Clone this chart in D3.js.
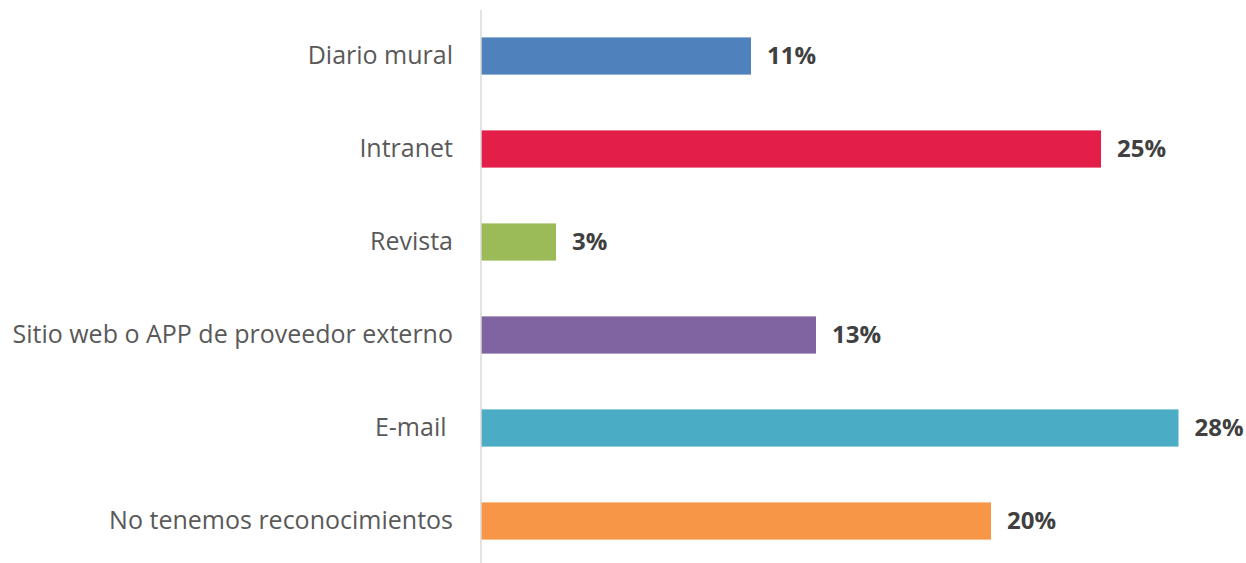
<!DOCTYPE html>
<html>
<head>
<meta charset="utf-8">
<script src="https://cdn.jsdelivr.net/npm/d3@7"></script>
<style>
  body { margin: 0; background: #fff; }
  svg { display: block; }
  text { white-space: pre; }
</style>
</head>
<body>
<script>
// horizontal bars, one colour per category
var categories = ["Diario mural", "Intranet", "Revista", "Sitio web o APP de proveedor externo", "E-mail ", "No tenemos reconocimientos"];
var values = [10.8, 24.8, 3.0, 13.4, 27.9, 20.4];
var colors = ["#4F81BD", "#E31E48", "#9BBB59", "#8064A2", "#4BACC6", "#F79646"];

var width = 1246, height = 563, x0 = 481;

var svg = d3.select("body").append("svg")
    .attr("width", width)
    .attr("height", height);

var x = d3.scaleLinear().domain([0, 1]).range([x0, x0 + 25]);
var y = d3.scaleBand().domain(categories).range([9.5, 567.5])
    .paddingInner(0.6).paddingOuter(0.3);

var data = categories.map(function(c, i) { return {cat: c, v: values[i], color: colors[i]}; });

svg.append("g").selectAll("rect")
  .data(data)
  .enter()
  .append("rect")
  .attr("x", x(0))
  .attr("y", function(d) { return y(d.cat); })
  .attr("width", function(d) { return x(d.v) - x(0); })
  .attr("height", y.bandwidth())
  .attr("fill", function(d) { return d.color; });

// category axis
var yAxis = d3.axisLeft(y).tickSize(0).tickPadding(28);
var ga = svg.append("g").attr("transform", "translate(" + x0 + ",0)").call(yAxis);
ga.select(".domain").remove();
ga.selectAll("text")
  .attr("font-family", "'Open Sans', sans-serif")
  .attr("font-size", 25)
  .attr("fill", "#595959");

svg.append("line")
  .attr("x1", x0).attr("x2", x0)
  .attr("y1", 10).attr("y2", 563)
  .attr("stroke", "#d9d9d9").attr("stroke-width", 1.5);

svg.append("g").selectAll("text")
  .data(data)
  .enter()
  .append("text")
  .attr("x", function(d) { return x(d.v) + 16; })
  .attr("y", function(d) { return y(d.cat) + y.bandwidth() / 2; })
  .attr("dy", "0.35em")
  .attr("font-family", "'Open Sans', sans-serif")
  .attr("font-weight", "bold")
  .attr("font-size", 24)
  .attr("fill", "#404040")
  .text(function(d) { return Math.round(d.v) + "%"; });
</script>
</body>
</html>
